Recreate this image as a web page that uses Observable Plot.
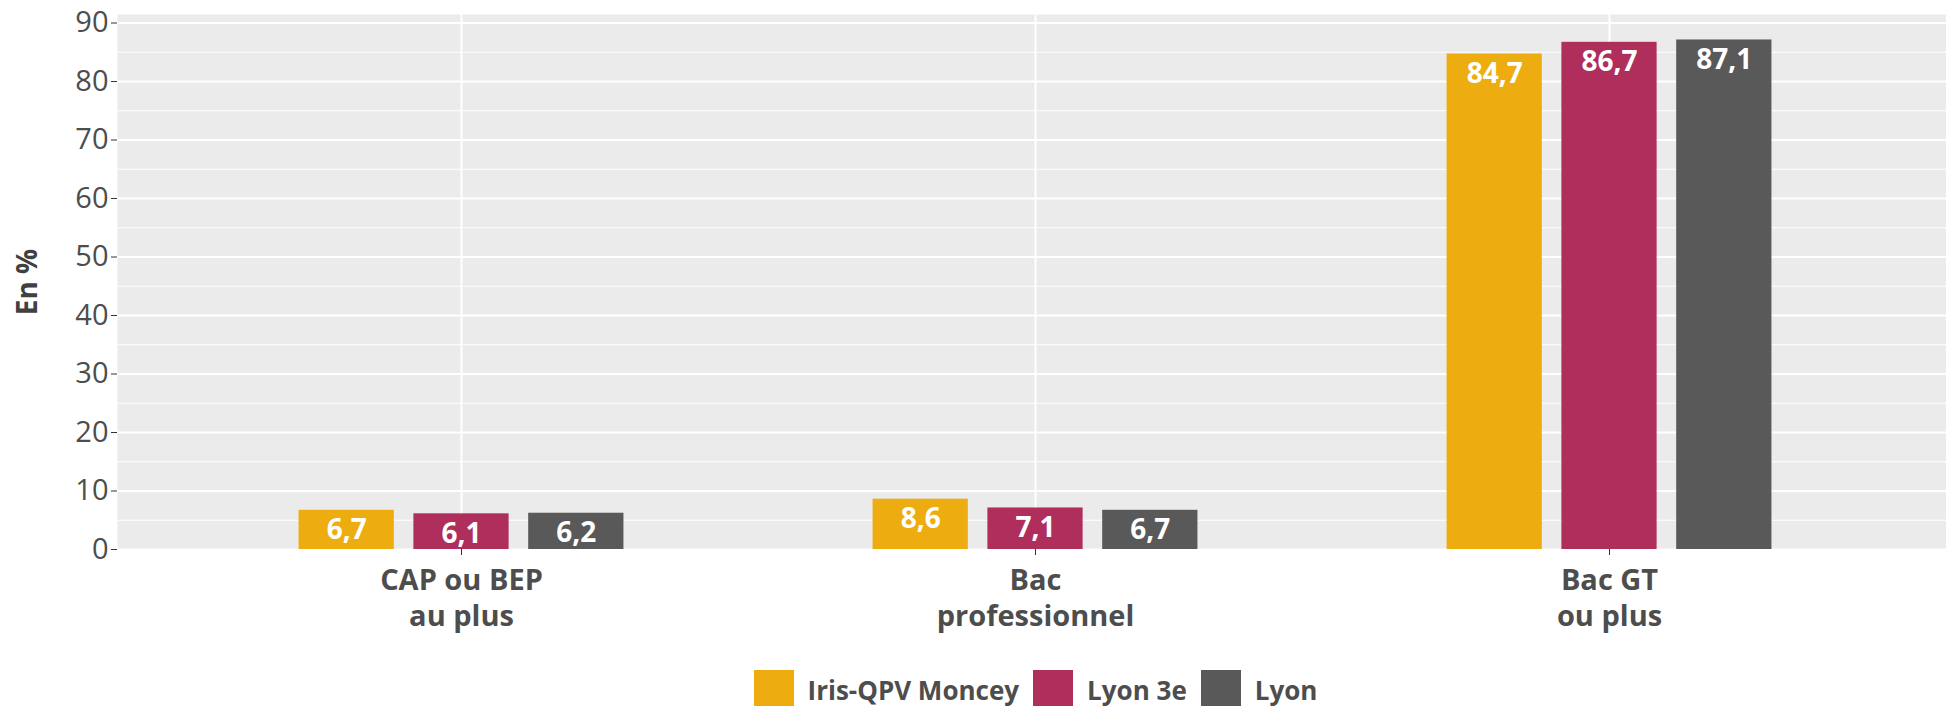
<!DOCTYPE html>
<html>
<head>
<meta charset="utf-8">
<script src="https://cdn.jsdelivr.net/npm/d3@7"></script>
<script src="https://cdn.jsdelivr.net/npm/@observablehq/plot@0.6"></script>
<style>
  html, body { margin: 0; padding: 0; background: #fff; overflow: hidden; }
  body { width: 1946px; height: 706px; font-family: "Open Sans", sans-serif; }
  #chart svg { max-width: none !important; display: block; }
  #legend { display: flex; justify-content: center; align-items: center; margin-top: 10px; gap: 14px; }
  #legend .sw { width: 40px; height: 40px; }
  #legend .lb { font-size: 26px; font-weight: 700; color: #4d4d4d; line-height: 40px; }
</style>
</head>
<body>
<div id="chart"></div>
<div id="legend"></div>
<script>
// ---- data ----
const categories = ["CAP ou BEP\nau plus", "Bac\nprofessionnel", "Bac GT\nou plus"];
const series = ["Iris-QPV Moncey", "Lyon 3e", "Lyon"];
const irisValues = [6.7, 8.6, 84.7];
const lyon3Values = [6.1, 7.1, 86.7];
const lyonValues = [6.2, 6.7, 87.1];
const seriesColors = ["#EDAD10", "#AF2E5C", "#595959"];
const yTicks = [0, 10, 20, 30, 40, 50, 60, 70, 80, 90];
const yMinorTicks = [5, 15, 25, 35, 45, 55, 65, 75, 85];
const yLabel = "En %";

const valuesBySeries = [irisValues, lyon3Values, lyonValues];
const data = [];
series.forEach((s, i) => categories.forEach((c, j) => data.push({series: s, cat: c, value: valuesBySeries[i][j], idx: i})));

// ---- layout ----
const width = 1954, height = 660;
const marginLeft = 117, marginRight = 0, marginTop = 14, marginBottom = 111;
const paddingInner = 0.4, paddingOuter = 0.3;
const step = (width - marginLeft - marginRight) / (categories.length - paddingInner + 2 * paddingOuter);
const bandwidth = step * (1 - paddingInner);
const dodge = step * 0.2;      // position_dodge(0.6) over 3 series
const barWidth = step * 0.5 / 3;
const inset = (bandwidth - barWidth) / 2;
const fmt = v => d3.format(".1f")(v).replace(".", ",");
const yDomain = [0, d3.max(data, d => d.value) * 1.05];

const font = "Open Sans";
const marks = [
  Plot.frame({fill: "#EBEBEB", stroke: "none"}),
  Plot.gridY(yMinorTicks, {stroke: "#fff", strokeOpacity: 1, strokeWidth: 1.2}),
  Plot.gridY(yTicks, {stroke: "#fff", strokeOpacity: 1, strokeWidth: 2}),
  Plot.gridX(categories, {stroke: "#fff", strokeOpacity: 1, strokeWidth: 2}),
];
series.forEach((s, i) => {
  const sub = data.filter(d => d.series === s);
  marks.push(Plot.barY(sub, {x: "cat", y: "value", fill: seriesColors[i], dx: (i - 1) * dodge, insetLeft: inset, insetRight: inset}));
});
series.forEach((s, i) => {
  const sub = data.filter(d => d.series === s);
  marks.push(Plot.text(sub, {x: "cat", y: "value", text: d => fmt(d.value), dx: (i - 1) * dodge, dy: 9, lineAnchor: "top", fill: "#fff", fontSize: 28, fontWeight: 700}));
});
marks.push(
  Plot.axisY(yTicks, {tickSize: 6, tickPadding: 3, fontSize: 29, stroke: "#333", fill: "#4d4d4d", label: null}),
  Plot.axisX({tickSize: 6, tickPadding: 8, fontSize: 29, fontWeight: 700, lineHeight: 1.27, stroke: "#333", fill: "#4d4d4d", label: null}),
  Plot.text([yLabel], {y: () => (yDomain[0] + yDomain[1]) / 2, frameAnchor: "left", textAnchor: "middle", lineAnchor: "middle", rotate: -90, dx: -89, fontSize: 28, fontWeight: 700, fill: "#404040"})
);

const chart = Plot.plot({
  width, height, marginLeft, marginRight, marginTop, marginBottom,
  style: {fontFamily: font, background: "#fff", overflow: "visible", maxWidth: "none"},
  x: {type: "band", domain: categories, paddingInner, paddingOuter, label: null},
  y: {domain: yDomain, label: null},
  marks
});
document.getElementById("chart").appendChild(chart);

const legend = document.getElementById("legend");
legend.style.marginLeft = marginLeft + "px";
legend.style.width = (width - marginLeft - marginRight) + "px";
series.forEach((s, i) => {
  const sw = document.createElement("div");
  sw.className = "sw";
  sw.style.background = seriesColors[i];
  const lb = document.createElement("div");
  lb.className = "lb";
  lb.textContent = s;
  legend.appendChild(sw);
  legend.appendChild(lb);
});
</script>
</body>
</html>
